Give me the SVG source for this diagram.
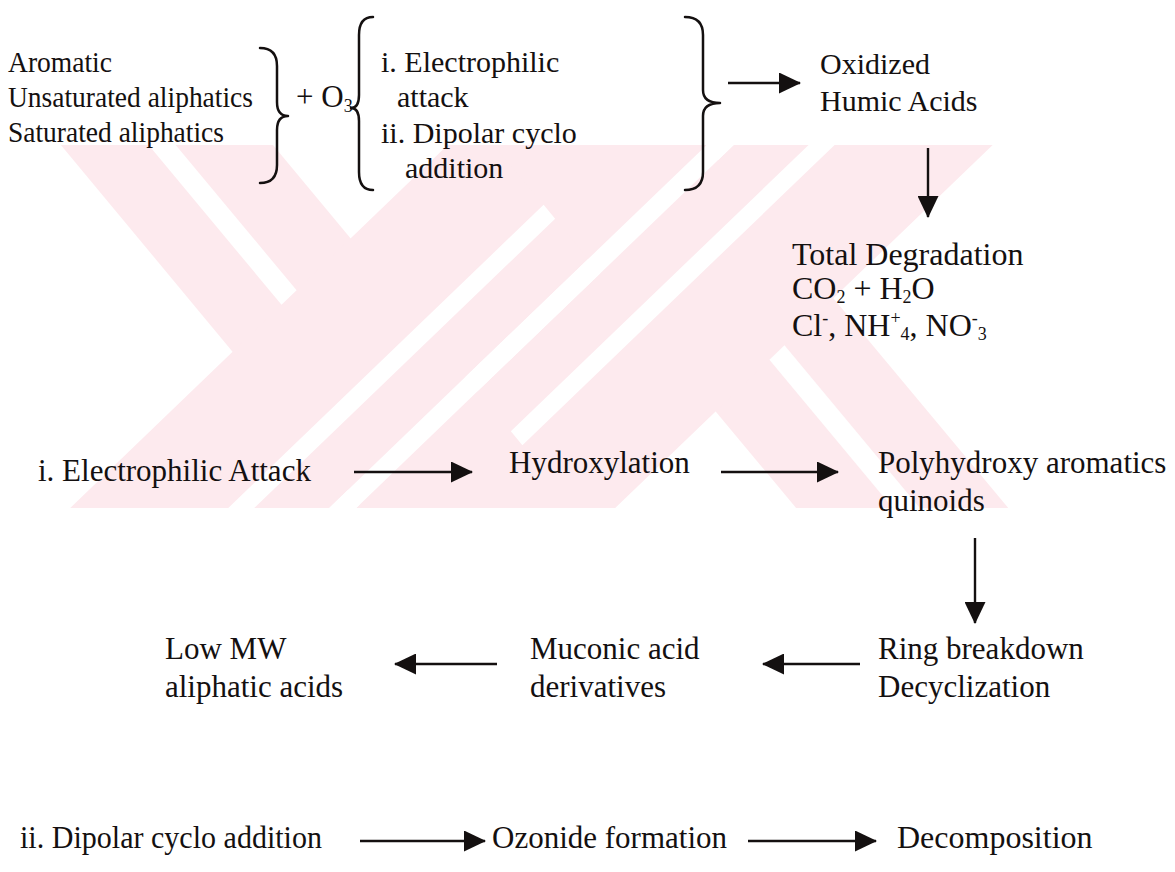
<svg xmlns="http://www.w3.org/2000/svg" width="1175" height="872" viewBox="0 0 1175 872">
  <defs>
    <style>
      .t { font-family: "Liberation Serif", "Times New Roman", serif; font-size: 31px; fill: #141010; }
      .a { font-size: 30px; }
      .m { font-size: 30px; }
      .d { font-size: 32px; }
      .s { font-size: 18px; }
      .wm { fill: #fdeaee; }
      .cut { fill: #ffffff; }
      .br { fill: none; stroke: #141010; stroke-width: 2.5; stroke-linecap: round; stroke-linejoin: round; }
      .ln { fill: none; stroke: #141010; stroke-width: 2.4; }
    </style>
    <marker id="ah" markerUnits="userSpaceOnUse" markerWidth="22" markerHeight="21" refX="21" refY="10.5" orient="auto">
      <path d="M0,0 L22,10.5 L0,21 Z" fill="#141010"/>
    </marker>
  </defs>
  <rect x="0" y="0" width="1175" height="872" fill="#ffffff"/>

  <g id="watermark" transform="translate(533,0) scale(1.04,1) translate(-533,0)">
    <polygon class="wm" points="79,145 283,145 573,508 369,508"/>
    <polygon class="wm" points="451,145 700,145 337,508 88,508"/>
    <polygon class="wm" points="495,145 699,145 990,508 786,508"/>
    <polygon class="wm" points="726,145 975,145 612,508 363,508"/>
    <polygon class="cut" points="163.4,145 189.4,145 305.7,290.3 291.2,304.8"/>
    <polygon class="cut" points="543.2,204.8 554.3,218.7 265,508 240,508"/>
    <polygon class="cut" points="700,145 726,145 363,508 337,508"/>
    <polygon class="cut" points="774.8,345.2 905,508 879,508 760.3,359.7"/>
    <polygon class="cut" points="798,145 823,145 522.8,445.2 511.7,431.3"/>
  </g>

  <g id="connectors">
    <path class="br" d="M260,48 Q277,48 277,66 L277,102 Q277,116 288,116 Q277,116 277,130 L277,165 Q277,183 260,183"/>
    <path class="br" d="M373,17 Q359,17 359,35 L359,95 Q359,108 351,108 Q359,108 359,121 L359,172 Q359,190 373,190"/>
    <path class="br" d="M685,17 Q703,17 703,35 L703,90 Q703,103 720,103 Q703,103 703,116 L703,172 Q703,190 685,190"/>
    <line class="ln" x1="728" y1="83" x2="800" y2="83" marker-end="url(#ah)"/>
    <line class="ln" x1="928" y1="148" x2="928" y2="217" marker-end="url(#ah)"/>
    <line class="ln" x1="354" y1="472" x2="472" y2="472" marker-end="url(#ah)"/>
    <line class="ln" x1="721" y1="472" x2="838" y2="472" marker-end="url(#ah)"/>
    <line class="ln" x1="975" y1="538" x2="975" y2="623" marker-end="url(#ah)"/>
    <line class="ln" x1="860" y1="664" x2="763" y2="664" marker-end="url(#ah)"/>
    <line class="ln" x1="497" y1="664" x2="395" y2="664" marker-end="url(#ah)"/>
    <line class="ln" x1="360" y1="841" x2="485" y2="841" marker-end="url(#ah)"/>
    <line class="ln" x1="748" y1="841" x2="876" y2="841" marker-end="url(#ah)"/>
  </g>

  <g id="reactants">
    <text class="t a" x="8" y="72" textLength="104" lengthAdjust="spacingAndGlyphs">Aromatic</text>
    <text class="t a" x="8" y="107" textLength="245" lengthAdjust="spacingAndGlyphs">Unsaturated aliphatics</text>
    <text class="t a" x="8" y="142" textLength="216" lengthAdjust="spacingAndGlyphs">Saturated aliphatics</text>
  </g>
  <g id="ozone">
    <text class="t" x="296" y="107" font-size="28">+ O<tspan class="s" dy="5">3</tspan></text>
  </g>
  <g id="mechanisms">
    <text class="t m" x="381" y="72">i. Electrophilic</text>
    <text class="t m" x="397" y="107">attack</text>
    <text class="t m" x="381" y="143">ii. Dipolar cyclo</text>
    <text class="t m" x="405" y="178">addition</text>
  </g>
  <g id="oxidized">
    <text class="t m" x="820" y="74">Oxidized</text>
    <text class="t m" x="820" y="111">Humic Acids</text>
  </g>
  <g id="total-degradation">
    <text class="t d" x="792" y="265">Total Degradation</text>
    <text class="t d" x="792" y="299">CO<tspan class="s" dy="4">2</tspan><tspan dy="-4"> + H</tspan><tspan class="s" dy="4">2</tspan><tspan dy="-4">O</tspan></text>
    <text class="t d" x="792" y="336">Cl<tspan class="s" dy="-12">-</tspan><tspan dy="12">, NH</tspan><tspan class="s" dy="-12">+</tspan><tspan class="s" dy="16">4</tspan><tspan dy="-4">, NO</tspan><tspan class="s" dy="-12">-</tspan><tspan class="s" dy="16">3</tspan></text>
  </g>
  <g id="electrophilic-attack">
    <text class="t" x="38" y="481">i. Electrophilic Attack</text>
  </g>
  <g id="hydroxylation">
    <text class="t" x="509" y="473">Hydroxylation</text>
  </g>
  <g id="polyhydroxy">
    <text class="t" x="878" y="473">Polyhydroxy aromatics</text>
    <text class="t" x="878" y="511">quinoids</text>
  </g>
  <g id="ring-breakdown">
    <text class="t" x="878" y="659">Ring breakdown</text>
    <text class="t" x="878" y="697">Decyclization</text>
  </g>
  <g id="muconic">
    <text class="t" x="530" y="659">Muconic acid</text>
    <text class="t" x="530" y="697">derivatives</text>
  </g>
  <g id="low-mw">
    <text class="t" x="165" y="659">Low MW</text>
    <text class="t" x="165" y="697">aliphatic acids</text>
  </g>
  <g id="dipolar">
    <text class="t" x="20" y="848" textLength="302" lengthAdjust="spacingAndGlyphs">ii. Dipolar cyclo addition</text>
  </g>
  <g id="ozonide">
    <text class="t" x="492" y="848">Ozonide formation</text>
  </g>
  <g id="decomposition">
    <text class="t d" x="897" y="848">Decomposition</text>
  </g>
</svg>
